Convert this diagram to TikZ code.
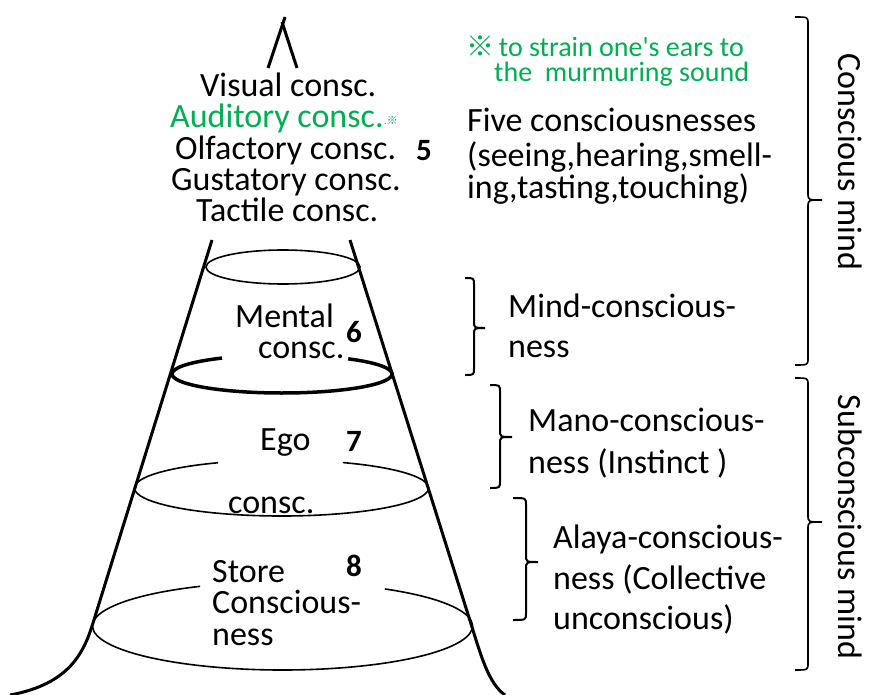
\documentclass[tikz,border=0pt]{standalone}
\usepackage{fontspec}
\setmainfont{Carlito}
\newfontfamily\carl{Carlito}
\newfontfamily\cjk{Noto Sans CJK JP}
\definecolor{notegreen}{HTML}{00B050}
\newcommand\drawRBrace[7]{% style, hook x, vertical x, top y, tip y, bottom y, tip x
  \draw[#1] (#2,#4) .. controls (#3,#4) .. (#3,#4+7) -- (#3,#5-7)
    .. controls (#3,#5) .. (#7,#5) .. controls (#3,#5) .. (#3,#5+7)
    -- (#3,#6-7) .. controls (#3,#6) .. (#2,#6);}
\begin{document}
\begin{tikzpicture}[x=1pt,y=-1pt,
  txt/.style={anchor=base west,inner sep=0pt,text height=0.62em,text depth=0.12em,font=\fontsize{34}{34}\selectfont\carl},
  num/.style={anchor=base west,inner sep=0pt,font=\fontsize{31}{31}\selectfont\carl\bfseries},
  note/.style={anchor=base west,inner sep=0pt,text height=0.62em,text depth=0.1em,text=notegreen,font=\fontsize{28}{28}\selectfont\carl},
  side/.style={line width=3pt},
  thinell/.style={line width=1.6pt},
  thickell/.style={line width=3.5pt},
  bracestyle/.style={line width=2pt},
  bigbrace/.style={line width=1.6pt},
  vtxt/.style={rotate=-90,inner sep=0pt,font=\fontsize{34}{34}\selectfont\carl}]
\useasboundingbox (0,0) rectangle (872,695);

% cone
\draw[side] (212,240) -- (93,623) .. controls (84,652) and (70,684) .. (10,695);
\draw[side] (350,240) -- (472,627) .. controls (481,656) and (489,684) .. (505,695);
\draw[side] (268,68) -- (285,17);
\draw[side] (282,22) -- (297,68);

% ellipses
\draw[thinell] (283,267) ellipse[x radius=77,y radius=17];
\draw[thickell] (282,374) ++(307:110 and 19) arc[start angle=307,end angle=597,x radius=110,y radius=19];
\draw[thinell] (281.5,488) ++(294.7:147 and 28) arc[start angle=294.7,end angle=604.4,x radius=147,y radius=28];
\draw[thinell] (282.5,626) ++(302.6:190 and 44) arc[start angle=302.6,end angle=604.3,x radius=190,y radius=44];

% left texts
\node[txt] (vis) at (200,97) {Visual consc.};
\node[txt,text=notegreen] (aud) at (170,128) {Auditory consc.};
\node[anchor=base west,inner sep=0pt,text=notegreen,font=\fontsize{11}{11}\selectfont\carl] (audmark) at (384,125) {.{\cjk ※}};
\node[txt] (olf) at (175,160) {Olfactory consc.};
\node[num] (n5) at (416,161) {5};
\node[txt] (gus) at (171,190) {Gustatory consc.};
\node[txt] (tac) at (196,221) {Tactile consc.};
\node[txt] (men1) at (235,327) {Mental};
\node[txt] (men2) at (258,358) {consc.};
\node[num] (n6) at (346,342) {6};
\node[txt] (ego1) at (260,450) {Ego};
\node[num] (n7) at (346,451) {7};
\node[txt] (ego2) at (228,513) {consc.};
\node[txt] (sto1) at (212,582) {Store};
\node[txt] (sto2) at (212,613) {Conscious-};
\node[txt] (sto3) at (212,645) {ness};
\node[num] (n8) at (346,576) {8};

% right texts
\node[note] (note1) at (466,57) {{\cjk ※}\,to strain one's ears to};
\node[note] (note2) at (494,82) {the\ \ murmuring sound};
\node[txt] (five1) at (467,132) {Five consciousnesses};
\node[txt] (five2) at (467,167) {(seeing,hearing,smell-};
\node[txt] (five3) at (467,198) {ing,tasting,touching)};
\node[txt] (mind1) at (508,317) {Mind-conscious-};
\node[txt] (mind2) at (508,357) {ness};
\node[txt] (mano1) at (528,431) {Mano-conscious-};
\node[txt] (mano2) at (528,473) {ness (Instinct )};
\node[txt] (alaya1) at (553,548) {Alaya-conscious-};
\node[txt] (alaya2) at (553,589) {ness (Collective};
\node[txt] (alaya3) at (553,629) {unconscious)};
\node[vtxt] (cm) at (850,162) {Conscious mind};
\node[vtxt] (scm) at (850,527) {Subconscious mind};

% braces
\drawRBrace{bracestyle}{465}{474}{278}{328}{375}{485}
\drawRBrace{bracestyle}{490}{500}{385}{437}{488}{512}
\drawRBrace{bracestyle}{513}{526}{498}{562}{620}{538}
\drawRBrace{bigbrace}{795}{808}{17}{200}{365}{822}
\drawRBrace{bigbrace}{795}{808}{378}{522}{670}{822}
\end{tikzpicture}
\end{document}
